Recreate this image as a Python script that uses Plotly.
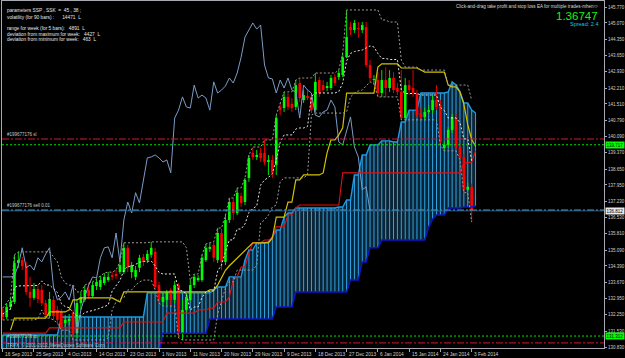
import plotly.graph_objects as go
import pandas as pd

# ---------------- data ----------------
open_ = [132.32, 132.15, 132.59, 132.81, 134.52, 134.65, 134.39, 133.25, 132.99, 133.38,
         133.34, 132.76, 132.19, 132.90, 132.46, 132.37, 131.88, 131.97, 132.32, 131.44,
         132.76, 132.90, 133.34, 133.07, 133.51, 133.47, 133.64, 133.77, 133.99, 134.04,
         134.12, 134.12, 135.19, 134.12, 133.91, 134.31, 134.79, 134.65, 134.88, 135.01,
         133.55, 132.81, 132.90, 133.34, 132.90, 133.55, 131.44, 132.46, 132.90, 133.55,
         133.77, 133.77, 134.65, 135.14, 135.32, 134.65, 135.84, 134.57, 136.41, 137.20,
         136.72, 137.47, 137.20, 138.26, 139.36, 139.18, 139.36, 139.36, 138.96, 139.05,
         138.83, 141.38, 141.33, 141.82, 141.51, 141.38, 142.43, 141.68, 141.86, 141.82,
         141.24, 142.56, 142.34, 142.21, 142.21, 142.69, 142.69, 142.78, 143.56, 144.89,
         144.76, 144.85, 144.76, 144.89, 143.22, 142.56, 142.56, 141.99, 142.56, 142.21,
         142.65, 142.21, 142.04, 140.89, 142.34, 142.21, 141.99, 141.11, 140.94, 141.16,
         141.24, 141.68, 141.46, 139.58, 139.71, 140.37, 140.94, 139.62, 139.18, 137.74,
         137.87]
high = [132.54, 132.76, 132.99, 134.88, 135.01, 134.79, 134.57, 133.91, 133.64, 133.55,
        133.55, 132.90, 133.25, 133.07, 132.63, 132.50, 132.24, 132.28, 132.46, 132.90,
        133.25, 133.55, 133.64, 133.69, 133.82, 133.95, 134.08, 134.12, 134.12, 134.21,
        134.57, 135.41, 135.32, 134.57, 134.39, 134.88, 134.92, 135.09, 135.45, 135.19,
        133.69, 133.21, 133.34, 133.42, 133.73, 133.64, 132.90, 133.21, 133.77, 134.04,
        133.99, 134.88, 135.36, 135.41, 135.45, 136.06, 136.02, 136.63, 137.38, 137.38,
        137.82, 137.61, 138.26, 139.27, 139.62, 139.49, 139.58, 139.93, 139.27, 139.27,
        141.02, 141.55, 142.04, 141.99, 141.77, 142.56, 142.65, 142.12, 142.12, 141.99,
        142.87, 142.69, 142.56, 142.48, 142.78, 142.83, 143.00, 143.75, 145.64, 145.11,
        145.20, 145.11, 145.11, 145.11, 143.44, 142.78, 142.91, 143.00, 143.13, 143.00,
        142.91, 142.43, 143.00, 142.65, 142.56, 143.00, 142.12, 141.33, 141.33, 141.46,
        141.86, 142.34, 141.68, 139.84, 140.50, 141.07, 141.07, 139.75, 139.32, 138.05,
        138.01]
low = [132.02, 132.06, 132.46, 132.72, 134.31, 134.21, 133.12, 132.59, 132.90, 132.76,
       132.63, 132.10, 132.10, 132.02, 131.88, 131.57, 131.71, 131.79, 131.14, 131.23,
       132.46, 132.81, 132.94, 132.99, 133.34, 133.34, 133.55, 133.69, 133.77, 133.82,
       134.04, 134.04, 134.12, 133.86, 133.77, 134.12, 134.39, 134.52, 134.75, 133.34,
       132.76, 132.63, 132.68, 132.63, 132.76, 131.23, 131.14, 132.28, 132.81, 133.42,
       133.69, 133.69, 134.57, 135.01, 134.57, 134.52, 134.21, 134.43, 136.28, 136.41,
       136.63, 136.98, 137.07, 138.09, 139.05, 139.05, 138.96, 138.83, 138.39, 138.26,
       138.39, 141.02, 141.16, 141.24, 141.16, 141.24, 141.60, 141.55, 141.68, 141.11,
       141.16, 141.82, 141.99, 142.08, 142.12, 142.30, 142.56, 142.69, 143.53, 144.54,
       144.63, 144.41, 144.63, 143.13, 142.48, 142.39, 141.82, 141.82, 141.82, 142.04,
       141.99, 141.90, 140.81, 140.81, 141.90, 141.82, 140.89, 140.81, 140.81, 141.07,
       141.11, 141.24, 139.71, 139.45, 139.58, 140.23, 139.49, 139.05, 137.61, 137.65,
       136.32]
close = [132.15, 132.59, 132.81, 134.52, 134.65, 134.39, 133.25, 132.99, 133.38, 132.94,
         132.76, 132.24, 132.94, 132.19, 132.02, 131.71, 132.02, 132.06, 131.44, 132.76,
         133.03, 133.34, 133.07, 133.55, 133.69, 133.77, 133.91, 133.91, 133.91, 133.95,
         134.43, 135.19, 134.31, 134.43, 134.21, 134.75, 134.57, 134.92, 135.19, 133.47,
         132.90, 133.03, 133.25, 132.90, 133.55, 131.44, 132.46, 133.03, 133.55, 133.91,
         133.86, 134.75, 135.19, 135.23, 134.75, 135.84, 134.57, 136.41, 137.20, 136.72,
         137.61, 137.16, 138.17, 139.14, 139.18, 139.27, 139.14, 138.96, 139.05, 138.48,
         140.89, 141.24, 141.82, 141.38, 141.33, 142.34, 141.77, 141.90, 141.77, 141.24,
         142.48, 141.99, 142.12, 142.30, 142.65, 142.43, 142.87, 143.56, 144.45, 144.76,
         145.07, 144.80, 144.98, 143.22, 142.65, 142.61, 141.99, 142.56, 142.21, 142.65,
         142.12, 142.04, 140.89, 142.34, 142.12, 141.99, 141.02, 140.94, 141.16, 141.24,
         141.68, 141.38, 139.84, 139.71, 140.37, 140.94, 139.62, 139.18, 137.74, 137.87,
         136.81]

date_label_bars = [0, 8, 16, 24, 32, 40, 48, 56, 64, 72, 80, 88, 96, 104, 112, 120]
date_labels = ["16 Sep 2013", "25 Sep 2013", "4 Oct 2013", "14 Oct 2013", "23 Oct 2013",
               "1 Nov 2013", "11 Nov 2013", "20 Nov 2013", "29 Nov 2013", "9 Dec 2013",
               "18 Dec 2013", "27 Dec 2013", "6 Jan 2014", "15 Jan 2014", "24 Jan 2014",
               "3 Feb 2014"]

price_ticks = [145.77, 145.07, 144.35, 143.65, 142.93, 142.21, 141.51, 140.79, 140.09,
               139.37, 138.65, 137.95, 137.23, 136.53, 135.81, 135.09, 134.39, 133.67,
               132.95, 132.25, 131.53, 130.83]

# indicator step lines: (bar index where value starts, value)
kijun_bars = [2, 3, 12, 17, 18, 20, 29, 30, 31, 53, 55, 56, 57, 58, 59, 60, 61, 62, 63, 64,
              69, 70, 73, 75, 77, 82, 83, 84, 86, 87, 88, 96, 97, 102, 107, 108, 111, 114,
              115, 117, 118, 119, 120, 121]
kijun_vals = [131.57, 132.10, 132.37, 132.46, 132.90, 132.99, 132.90, 132.81, 133.25, 133.34,
              133.55, 133.90, 134.20, 134.40, 134.57, 134.75, 134.90, 135.05, 135.23, 135.41,
              135.62, 136.54, 137.20, 138.17, 138.39, 138.48, 139.36, 139.93, 140.15, 140.46,
              141.99, 143.13, 143.27, 143.09, 143.00, 142.91, 142.91, 142.34, 142.26, 142.04,
              141.50, 140.60, 139.95, 139.65]
red_bars = [0, 12, 31, 42, 50, 53, 55, 58, 59, 60, 61, 63, 64, 67, 69, 70, 73, 75, 76, 87,
            118, 120, 121]
red_vals = [131.44, 131.67, 131.93, 132.32, 132.46, 132.54, 132.81, 133.03, 133.77, 133.91,
            134.34, 134.96, 135.41, 135.53, 135.62, 136.11, 136.63, 136.94, 137.07, 138.48,
            138.92, 138.96, 139.45]
blue_bars = [40, 41, 53, 70, 75, 89, 92, 94, 97, 107, 109, 110, 111, 114, 118, 121]
blue_vals = [130.50, 131.44, 132.06, 132.59, 133.25, 133.77, 134.57, 135.19, 135.53, 135.53,
             136.10, 136.45, 136.63, 136.94, 136.98, 137.03]
cloud_bars = [0, 15, 37, 54, 55, 58, 62, 63, 65, 68, 69, 70, 72, 73, 75, 86, 88, 90, 92, 94,
              97, 100, 102, 104, 107, 114, 115, 116, 117, 118, 119, 120, 121]
cloud_vals = [131.36, 132.15, 133.21, 133.34, 133.47, 133.91, 134.65, 135.09, 135.41, 135.45,
              135.67, 135.97, 136.54, 136.72, 136.94, 136.98, 137.29, 138.39, 139.27, 139.71,
              139.89, 139.84, 140.72, 141.24, 141.99, 142.04, 142.48, 142.34, 142.04, 141.55,
              141.55, 141.24, 141.11]

chikou_shift = 26
band_period = 9

sl_level = 139.97
tp_level = 131.01
order_level = 136.85
bid_level = 136.812
ea_upper = 139.717
ea_lower = 131.312

info_lines = ["parameters SSP , SSK  =  45 , 38 ;",
              "volatility (for 90 bars) :      14471  L",
              "range for week (for 5 bars):   4891  L",
              "deviation from maximum for week:   4427  L",
              "deviation from minimum for week:   463  L"]

# ---------------- geometry ----------------
W, H = 625, 358
ML, MR, MT, MB = 2, 21, 1, 10
PW, PH = W - ML - MR, H - MT - MB
X_RANGE = [-0.18, -0.18 + PW / 3.908]
Y_RANGE = [146.034 - PH / 22.758, 146.034]
FONT = "Liberation Sans"


def px_x(x):
    return (x - ML) / PW


def px_y(y):
    return 1 - (y - MT) / PH


n_bars = len(close)
n_ind = 122


def hold(bars, vals, n):
    out, cur, j = [None] * n, None, 0
    for i in range(n):
        while j < len(bars) and bars[j] <= i:
            cur = vals[j]
            j += 1
        out[i] = cur
    return out


fig = go.Figure()

# ---- cloud ----
top = hold(cloud_bars, cloud_vals, n_ind)
bot_raw = hold(blue_bars, blue_vals, n_ind)
floor = Y_RANGE[0] - 0.5
bot = [b if b is not None else floor for b in bot_raw]
xs = list(range(n_ind))
fig.add_trace(go.Scatter(x=xs + xs[::-1], y=top + bot[::-1], fill="toself",
                         fillcolor="#0b2536", line=dict(width=0), mode="lines",
                         hoverinfo="skip"))
hx, hy = [], []
for i in xs:
    hx += [i, i, None]
    hy += [bot[i], top[i], None]
fig.add_trace(go.Scatter(x=hx, y=hy, mode="lines",
                         line=dict(color="#2ea4e4", width=1), hoverinfo="skip"))
fig.add_trace(go.Scatter(x=xs, y=top, mode="lines",
                         line=dict(color="#1d9be6", width=1.4), hoverinfo="skip"))

# ---- candles ----
wx_up, wy_up, wx_dn, wy_dn = [], [], [], []
bx_up, by_up, bx_dn, by_dn = [], [], [], []
for i in range(n_bars):
    o, h, l, c = open_[i], high[i], low[i], close[i]
    lo_b, hi_b = min(o, c), max(o, c)
    if hi_b - lo_b < 0.04:
        m = (hi_b + lo_b) / 2
        lo_b, hi_b = m - 0.02, m + 0.02
    if c >= o:
        wx_up += [i, i, None]; wy_up += [l, h, None]
        bx_up += [i, i, None]; by_up += [lo_b, hi_b, None]
    else:
        wx_dn += [i, i, None]; wy_dn += [l, h, None]
        bx_dn += [i, i, None]; by_dn += [lo_b, hi_b, None]
fig.add_trace(go.Scatter(x=wx_up, y=wy_up, mode="lines", line=dict(color="#00e000", width=1), hoverinfo="skip"))
fig.add_trace(go.Scatter(x=wx_dn, y=wy_dn, mode="lines", line=dict(color="#e00000", width=1), hoverinfo="skip"))
fig.add_trace(go.Scatter(x=bx_up, y=by_up, mode="lines", line=dict(color="#00ff00", width=2.6), hoverinfo="skip"))
fig.add_trace(go.Scatter(x=bx_dn, y=by_dn, mode="lines", line=dict(color="#ff0000", width=2.6), hoverinfo="skip"))

# ---- indicator lines ----
chikou_x = list(range(n_bars - chikou_shift))
chikou_y = close[chikou_shift:]
fig.add_trace(go.Scatter(x=chikou_x, y=chikou_y, mode="lines",
                         line=dict(color="#7a9cc6", width=1), hoverinfo="skip"))

fig.add_trace(go.Scatter(x=xs, y=hold(red_bars, red_vals, n_ind), mode="lines",
                         line=dict(color="#e01010", width=1.1), hoverinfo="skip"))
fig.add_trace(go.Scatter(x=xs, y=hold(kijun_bars, kijun_vals, n_ind), mode="lines",
                         line=dict(color="#d2c200", width=1.2), hoverinfo="skip"))
fig.add_trace(go.Scatter(x=xs, y=bot_raw, mode="lines",
                         line=dict(color="#1014c8", width=1.5), hoverinfo="skip"))

hh = pd.Series(high).rolling(band_period, min_periods=1).max()
ll = pd.Series(low).rolling(band_period, min_periods=1).min()
mid = (hh + ll) / 2
bx = list(range(n_bars))
fig.add_trace(go.Scatter(x=bx, y=hh, mode="lines",
                         line=dict(color="#9a9a9a", width=1, dash="2px,2px"), hoverinfo="skip"))
fig.add_trace(go.Scatter(x=bx, y=ll, mode="lines",
                         line=dict(color="#9a9a9a", width=1, dash="2px,2px"), hoverinfo="skip"))
fig.add_trace(go.Scatter(x=bx, y=mid, mode="lines",
                         line=dict(color="#e6e6e6", width=1, dash="2px,2px"), hoverinfo="skip"))

# ---- horizontal levels ----
shapes = []


def hline(level, color, dash, width=1):
    shapes.append(dict(type="line", xref="paper", x0=0, x1=1, yref="y", y0=level, y1=level,
                       line=dict(color=color, width=width, dash=dash)))


hline(sl_level, "#d01836", "7px,2px,2px,2px")
hline(ea_upper, "#00e000", "2px,2px")
hline(bid_level, "#3a4f7a", "solid")
hline(order_level, "#3aa0c8", "7px,2px,2px,2px")
hline(ea_lower, "#00e000", "2px,2px")
hline(tp_level, "#d01836", "7px,2px,2px,2px")

annotations = []


def text(x, y, s, size, color, xanchor="left", yanchor="middle", xref="paper", yref="paper", **kw):
    annotations.append(dict(x=x, y=y, xref=xref, yref=yref, text=s, showarrow=False,
                            xanchor=xanchor, yanchor=yanchor,
                            font=dict(family=FONT, size=size, color=color), **kw))


for k, line in enumerate(info_lines):
    ypix = [11, 17, 28, 34, 40][k]
    text(px_x(5), px_y(ypix), line, 4.8, "#e8e8e8")

text(px_x(596), px_y(6), "Click-and-drag take profit and stop loss EA for multiple trades-mhen", 4.6,
     "#d8d8d8", xanchor="right")
text(px_x(601), px_y(6), "☺", 5.5, "#d8d8d8", xanchor="right")
text(px_x(600), px_y(16), "1.36747", 11.5, "#19f019", xanchor="right")
text(px_x(600), px_y(24.5), "Spread: 2.4", 5.5, "#18c8d8", xanchor="right")

text(px_x(5), sl_level, "#199677176 sl", 4.5, "#c8c8c8", yref="y", yanchor="bottom", yshift=0.5)
text(px_x(5), order_level, "#199677176 sell 0.01", 4.5, "#c8c8c8", yref="y", yanchor="bottom", yshift=0.5)
text(px_x(5), tp_level, "#199677176 tp", 4.5, "#c8c8c8", yref="y", yanchor="bottom", yshift=2)
text(px_x(5), px_y(344.5), "TRPX  © 2001-2013, MetaQuotes Software Corp.", 4.5, "#b8b8b8")

for b, lab in zip(date_label_bars, date_labels):
    text(b, 0, lab, 4.8, "#d0d0d0", xref="x", yanchor="top", yshift=-1.5, xshift=0.5)

# price boxes on the right axis
for lvl, bg in [(ea_upper, "#00ff00"), (bid_level, "#e8e8e8"), (ea_lower, "#00ff00")]:
    annotations.append(dict(x=1, y=lvl, xref="paper", yref="y", text=f"{lvl:.3f}", showarrow=False,
                            xanchor="left", yanchor="middle", xshift=0.5, bgcolor=bg, borderpad=0.5,
                            font=dict(family=FONT, size=4.5, color="#000000")))

fig.update_layout(
    width=W, height=H, margin=dict(l=ML, r=MR, t=MT, b=MB, pad=0),
    paper_bgcolor="#000000", plot_bgcolor="#000000", showlegend=False,
    template="none", shapes=shapes, annotations=annotations,
    xaxis=dict(range=X_RANGE, showgrid=False, zeroline=False, showline=True, mirror=True,
               linecolor="#a8a8b0", linewidth=1, tickvals=date_label_bars, ticks="outside",
               ticklen=3, tickcolor="#a8a8b0", showticklabels=False, automargin=False,
               fixedrange=True),
    yaxis=dict(range=Y_RANGE, side="right", showgrid=False, zeroline=False, showline=True,
               mirror=True, linecolor="#a8a8b0", linewidth=1, tickvals=price_ticks,
               ticktext=[f"{v:.3f}" for v in price_ticks], ticks="outside", ticklen=2,
               tickcolor="#a8a8b0", tickfont=dict(family=FONT, size=4.5, color="#d0d0d0"),
               automargin=False, fixedrange=True),
)

fig.write_html("out.html", config={"displayModeBar": False})
